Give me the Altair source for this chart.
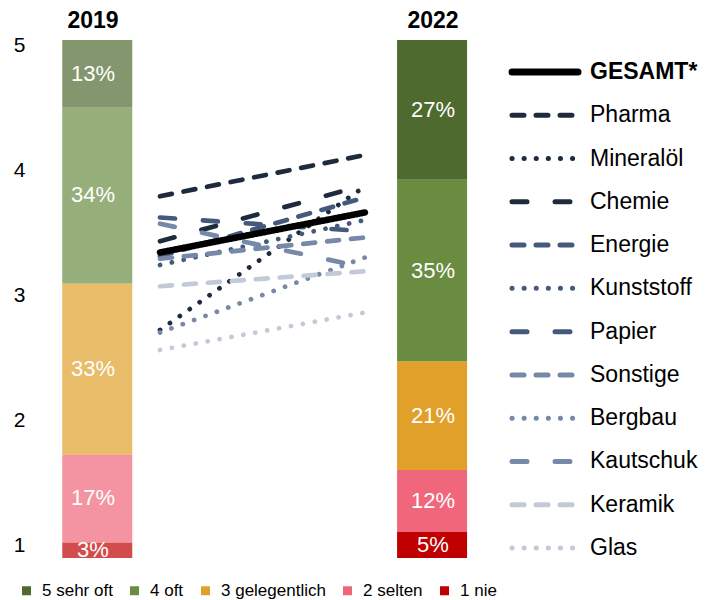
import altair as alt
import pandas as pd

# ---------------- data ----------------
jahre = [2019, 2022]
kategorien = ["1 nie", "2 selten", "3 gelegentlich", "4 oft", "5 sehr oft"]
anteile_2019 = [3, 17, 33, 34, 13]
anteile_2022 = [5, 12, 21, 35, 27]
legende_kategorien = ["5 sehr oft", "4 oft", "3 gelegentlich", "2 selten", "1 nie"]
kategorie_farben = ["#4f6a2f", "#6a8c40", "#e0a02a", "#f0677b", "#c00000"]

branchen = ["GESAMT*", "Pharma", "Mineralöl", "Chemie", "Energie", "Kunststoff",
            "Papier", "Sonstige", "Bergbau", "Kautschuk", "Keramik", "Glas"]
werte_2019 = [3.34, 3.79, 2.72, 3.43, 3.31, 3.24, 3.62, 3.29, 2.70, 3.57, 3.07, 2.56]
werte_2022 = [3.66, 4.12, 3.87, 3.88, 3.78, 3.60, 3.51, 3.46, 3.30, 3.22, 3.19, 2.86]

# ---------------- styles ----------------
DUNKEL, MITTEL, HELL, BLASS = "#1e2b3c", "#44597b", "#7689a8", "#c2c9d7"
linien_farben = ["#000000", DUNKEL, DUNKEL, DUNKEL, MITTEL, MITTEL, MITTEL,
                 HELL, HELL, HELL, BLASS, BLASS]
STRICH, PUNKT, LANG, VOLL = [12, 12], [0.1, 12], [15, 28], [1, 0]
linien_dash = [VOLL, STRICH, PUNKT, LANG, STRICH, PUNKT, LANG, STRICH, PUNKT, LANG, STRICH, PUNKT]

FONT = "Liberation Sans"

# ---------------- tables ----------------
bar_rows = []
for jahr, anteile in zip(jahre, [anteile_2019, anteile_2022]):
    for rang, (kat, a) in enumerate(zip(kategorien, anteile), start=1):
        bar_rows.append({"Jahr": jahr, "Kategorie": kat, "Rang": rang, "Anteil": a})
bar_df = pd.DataFrame(bar_rows)

line_rows = []
for b, w19, w22 in zip(branchen, werte_2019, werte_2022):
    line_rows.append({"Branche": b, "Jahr": 2019, "Wert": w19})
    line_rows.append({"Branche": b, "Jahr": 2022, "Wert": w22})
line_df = pd.DataFrame(line_rows)
legend_df = pd.DataFrame({"Branche": branchen})
title_df = pd.DataFrame({"Jahr": jahre, "Titel": [str(j) for j in jahre]})

# ---------------- scales ----------------
bar_x = alt.Scale(domain=[2018.5765, 2024.356], nice=False, zero=False)
line_x = alt.Scale(domain=[2017.3171, 2026.9025], nice=False, zero=False)
bar_y = alt.Scale(domain=[0, 100], nice=False, zero=True)
line_y = alt.Scale(domain=[0.896, 5.04], nice=False, zero=False)
col_scale = alt.Scale(domain=branchen, range=linien_farben)
dash_scale = alt.Scale(domain=branchen, range=linien_dash)
leg_y = alt.Scale(type="point", domain=branchen, range=[32, 508], padding=0)

stacked = alt.Chart(bar_df).transform_stack(
    stack="Anteil", as_=["y0", "y1"], groupby=["Jahr"],
    sort=[alt.SortField("Rang", order="ascending")]
)

bars = stacked.mark_bar(size=70).encode(
    x=alt.X("Jahr:Q", scale=bar_x, axis=None),
    y=alt.Y("y0:Q", scale=bar_y, axis=None),
    y2="y1:Q",
    color=alt.Color(
        "Kategorie:N",
        scale=alt.Scale(domain=legende_kategorien, range=kategorie_farben),
        legend=alt.Legend(
            orient="none", legendX=-27, legendY=542, direction="horizontal",
            title=None, symbolType="square", symbolSize=81, symbolStrokeWidth=0,
            labelFontSize=17, labelFont=FONT, labelColor="#000000",
            columnPadding=13, labelOffset=7,
        ),
    ),
    opacity=alt.condition("datum.Jahr == 2019", alt.value(0.7), alt.value(1.0)),
)

bar_text = stacked.transform_calculate(
    mid="(datum.y0 + datum.y1) / 2", label="datum.Anteil + '%'"
).mark_text(color="white", fontSize=22, font=FONT, baseline="middle").encode(
    x=alt.X("Jahr:Q", scale=bar_x, axis=None),
    y=alt.Y("mid:Q", scale=bar_y, axis=None),
    text="label:N",
)

titles = alt.Chart(title_df).mark_text(
    fontSize=23, fontWeight="bold", font=FONT, color="#000000", baseline="middle"
).encode(
    x=alt.X("Jahr:Q", scale=bar_x, axis=None),
    y=alt.value(-19),
    text="Titel:N",
)

y_axis = alt.Axis(
    values=[1, 2, 3, 4, 5], format="d", title=None, domain=False, ticks=False,
    tickSize=0, grid=False, labelFontSize=21, labelFont=FONT, labelColor="#000000",
    labelPadding=20)

lines_others = alt.Chart(line_df).transform_filter(
    "datum.Branche != 'GESAMT*'"
).mark_line(strokeWidth=4.7, strokeCap="round").encode(
    x=alt.X("Jahr:Q", scale=line_x, axis=None),
    y=alt.Y("Wert:Q", scale=line_y, axis=y_axis),
    color=alt.Color("Branche:N", scale=col_scale, legend=None),
    strokeDash=alt.StrokeDash("Branche:N", scale=dash_scale, legend=None),
)

lines_total = alt.Chart(line_df).transform_filter(
    "datum.Branche == 'GESAMT*'"
).mark_line(strokeWidth=6.5, strokeCap="round").encode(
    x=alt.X("Jahr:Q", scale=line_x, axis=None),
    y=alt.Y("Wert:Q", scale=line_y, axis=None),
    color=alt.Color("Branche:N", scale=col_scale, legend=None),
    strokeDash=alt.StrokeDash("Branche:N", scale=dash_scale, legend=None),
)

leg_rule_enc = dict(
    x=alt.value(467), x2=alt.value(533),
    y=alt.Y("Branche:N", scale=leg_y, axis=None),
    color=alt.Color("Branche:N", scale=col_scale, legend=None),
    strokeDash=alt.StrokeDash("Branche:N", scale=dash_scale, legend=None),
)
leg_rules = alt.Chart(legend_df).transform_filter(
    "datum.Branche != 'GESAMT*'"
).mark_rule(strokeWidth=5, strokeCap="round").encode(**leg_rule_enc)
leg_rule_total = alt.Chart(legend_df).transform_filter(
    "datum.Branche == 'GESAMT*'"
).mark_rule(strokeWidth=7, strokeCap="round").encode(**leg_rule_enc)

leg_text_enc = dict(
    x=alt.value(545),
    y=alt.Y("Branche:N", scale=leg_y, axis=None),
    text="Branche:N",
)
leg_text = alt.Chart(legend_df).transform_filter(
    "datum.Branche != 'GESAMT*'"
).mark_text(align="left", baseline="middle", fontSize=23, font=FONT, color="#000000").encode(**leg_text_enc)
leg_text_total = alt.Chart(legend_df).transform_filter(
    "datum.Branche == 'GESAMT*'"
).mark_text(align="left", baseline="middle", fontSize=23, fontWeight="bold", font=FONT, color="#000000").encode(**leg_text_enc)

chart = alt.layer(
    bars, bar_text, titles, lines_others, lines_total,
    leg_rules, leg_rule_total, leg_text, leg_text_total,
).resolve_scale(
    x="independent", y="independent", color="independent", strokeDash="independent",
    opacity="independent",
).properties(
    width=655, height=518,
    autosize=alt.AutoSizeParams(type="none"),
    padding={"left": 37, "top": 32, "right": 4, "bottom": 42},
).configure_view(stroke=None)

chart.save("out.html", embed_options={"renderer": "svg", "actions": False})
